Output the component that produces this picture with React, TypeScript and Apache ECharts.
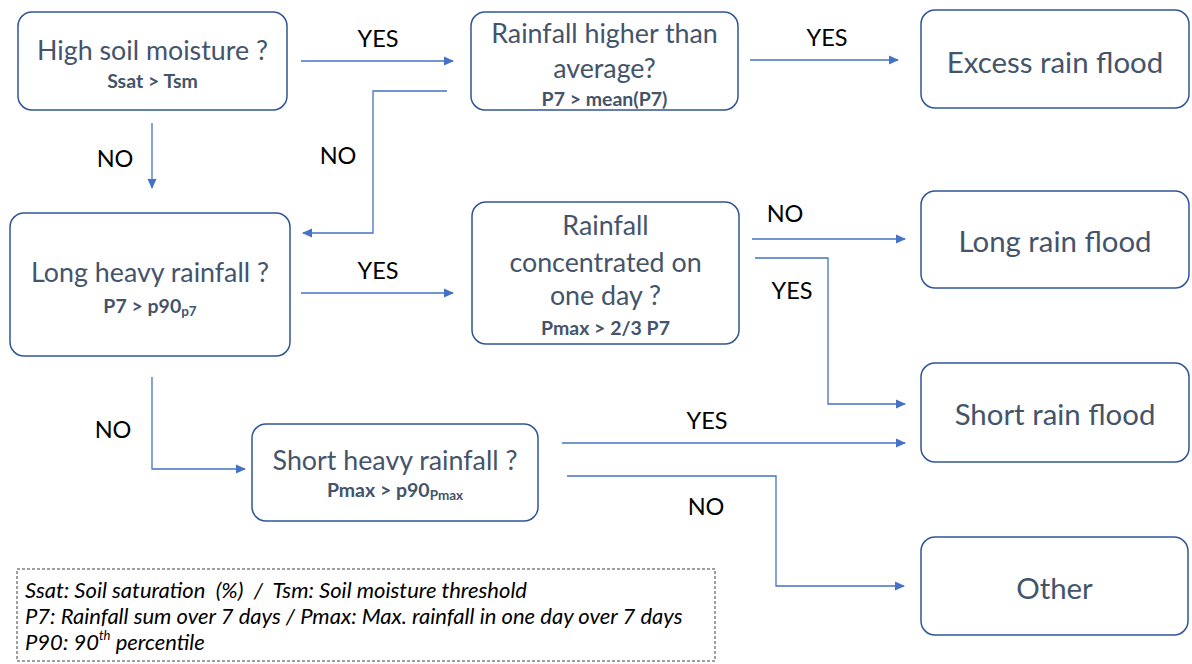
import React, { useEffect, useRef } from "react";
import * as echarts from "echarts";

// ---- content ----
const nodeTitles: string[][] = [
  ["High soil moisture ?"],
  ["Rainfall higher than", "average?"],
  ["Excess rain flood"],
  ["Long heavy rainfall ?"],
  ["Rainfall", "concentrated on", "one day ?"],
  ["Long rain flood"],
  ["Short heavy rainfall ?"],
  ["Short rain flood"],
  ["Other"],
];
const nodeConditions: ({ main: string; sub: string } | null)[] = [
  { main: "Ssat > Tsm", sub: "" },
  { main: "P7 > mean(P7)", sub: "" },
  null,
  { main: "P7 > p90", sub: "p7" },
  { main: "Pmax > 2/3 P7", sub: "" },
  null,
  { main: "Pmax > p90", sub: "Pmax" },
  null,
  null,
];
const edgeLabels: string[] = ["YES", "NO", "YES", "NO", "YES", "NO", "YES", "NO", "YES", "NO"];
const legendLines: string[] = [
  "Ssat: Soil saturation  (%)  /  Tsm: Soil moisture threshold",
  "P7: Rainfall sum over 7 days / Pmax: Max. rainfall in one day over 7 days",
];
const legendLast = { pre: "P90: 90", sup: "th", post: " percentile" };

// ---- layout ----
const nodeBoxes = [
  { x: 18, y: 12, w: 269, h: 98, ty: [50], sy: 80, fs: 26.8 },
  { x: 471, y: 12, w: 267, h: 98, ty: [33, 68], sy: 98, fs: 26.8 },
  { x: 921, y: 10, w: 268, h: 98, ty: [61], sy: 0, fs: 29.4 },
  { x: 10, y: 213, w: 280, h: 143, ty: [272], sy: 305, fs: 26.8 },
  { x: 472, y: 202, w: 267, h: 142, ty: [225, 262, 295], sy: 327, fs: 26.8 },
  { x: 921, y: 191, w: 268, h: 97, ty: [240], sy: 0, fs: 29.4 },
  { x: 252, y: 424, w: 286, h: 97, ty: [460], sy: 489, fs: 26.8 },
  { x: 921, y: 363, w: 268, h: 99, ty: [413], sy: 0, fs: 29.4 },
  { x: 921, y: 537, w: 267, h: 98, ty: [587], sy: 0, fs: 29.4 },
];
const edgePaths: number[][][] = [
  [[301, 61], [453, 61]],
  [[447, 91], [373, 91], [373, 233], [303, 233]],
  [[750, 60], [898, 60]],
  [[152, 123], [152, 188]],
  [[301, 293], [453, 293]],
  [[752, 239], [905, 239]],
  [[755, 258], [828, 258], [828, 404], [905, 404]],
  [[152, 377], [152, 469], [245, 469]],
  [[562, 443], [905, 443]],
  [[567, 476], [776, 476], [776, 586], [904, 586]],
];
const edgeLabelPos: number[][] = [
  [378, 38], [338, 155], [827, 37], [115, 158], [378, 270],
  [785, 213], [792, 290], [113, 429], [707, 420], [706, 506],
];

const FONT = "Lato, 'Open Sans', sans-serif";
const BOX_STROKE = "#2F5597";
const LINE = "#4472C4";
const TEXT = "#44546A";

export default function App() {
  const ref = useRef<HTMLDivElement>(null);
  useEffect(() => {
    document.body.style.margin = "0";
    const chart = echarts.init(ref.current!, null, { renderer: "svg" });
    const els: any[] = [];

    nodeBoxes.forEach((b, i) => {
      els.push({
        type: "rect",
        shape: { x: b.x, y: b.y, width: b.w, height: b.h, r: 14 },
        style: { fill: "#fff", stroke: BOX_STROKE, lineWidth: 1.5 },
      });
      const cx = b.x + b.w / 2;
      nodeTitles[i].forEach((t, k) => {
        els.push({
          type: "text",
          x: cx,
          y: b.ty[k],
          style: {
            text: t, fill: TEXT, fontFamily: FONT, fontSize: b.fs,
            align: "center", verticalAlign: "middle",
          },
        });
      });
      const c = nodeConditions[i];
      if (c) {
        const txt = c.sub ? `{b|${c.main}}{s|${c.sub}}` : `{b|${c.main}}`;
        els.push({
          type: "text",
          x: cx,
          y: b.sy,
          style: {
            text: txt, fill: TEXT, align: "center", verticalAlign: "middle",
            rich: {
              b: { fontFamily: FONT, fontSize: 19.5, fontWeight: "bold", fill: TEXT, lineHeight: 26, verticalAlign: "middle" },
              s: { fontFamily: FONT, fontSize: 13.5, fontWeight: "bold", fill: TEXT, lineHeight: 13, verticalAlign: "bottom" },
            },
          },
        });
      }
    });

    edgePaths.forEach((pts, i) => {
      els.push({
        type: "polyline",
        shape: { points: pts },
        style: { stroke: LINE, lineWidth: 1.3, fill: null },
      });
      const p = pts[pts.length - 1];
      const q = pts[pts.length - 2];
      const dx = p[0] - q[0], dy = p[1] - q[1];
      const len = Math.hypot(dx, dy);
      const ux = dx / len, uy = dy / len;
      const bx = p[0] - ux * 9, by = p[1] - uy * 9;
      const nx = -uy, ny = ux;
      els.push({
        type: "polygon",
        shape: { points: [[p[0] + ux, p[1] + uy], [bx + nx * 4.5, by + ny * 4.5], [bx - nx * 4.5, by - ny * 4.5]] },
        style: { fill: LINE },
      });
      els.push({
        type: "text",
        x: edgeLabelPos[i][0],
        y: edgeLabelPos[i][1],
        style: {
          text: edgeLabels[i], fill: "#000", fontFamily: FONT, fontSize: 23.5,
          align: "center", verticalAlign: "middle",
        },
      });
    });

    // legend
    els.push({
      type: "rect",
      shape: { x: 17, y: 569, width: 698, height: 92 },
      style: { fill: "none", stroke: "#404040", lineWidth: 1, lineDash: [3, 2] },
    });
    const legendY = [589, 615];
    legendLines.forEach((t, k) => {
      els.push({
        type: "text",
        x: 25,
        y: legendY[k],
        style: {
          text: t, fill: "#000", fontFamily: FONT, fontSize: 22, fontStyle: "italic",
          align: "left", verticalAlign: "middle",
        },
      });
    });
    els.push({
      type: "text",
      x: 25,
      y: 641,
      style: {
        text: `{n|${legendLast.pre}}{u|${legendLast.sup}}{n|${legendLast.post}}`,
        fill: "#000", align: "left", verticalAlign: "middle",
        rich: {
          n: { fontFamily: FONT, fontSize: 22, fontStyle: "italic", fill: "#000", lineHeight: 26, verticalAlign: "middle" },
          u: { fontFamily: FONT, fontSize: 13, fontStyle: "italic", fill: "#000", lineHeight: 13, verticalAlign: "top" },
        },
      },
    });

    chart.setOption({
      animation: false,
      backgroundColor: "#fff",
      graphic: { elements: els },
    });
    return () => chart.dispose();
  }, []);
  return <div ref={ref} style={{ width: 1192, height: 664 }} />;
}
